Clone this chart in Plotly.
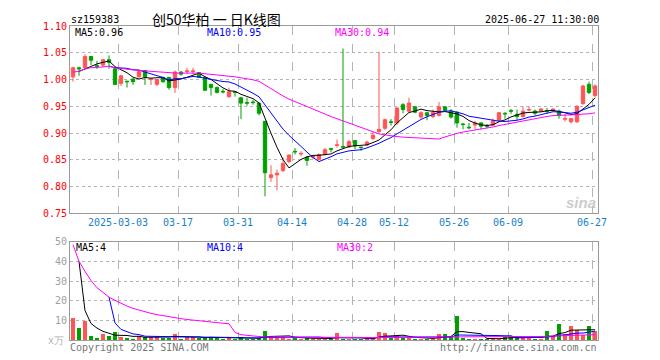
import plotly.graph_objects as go
import pandas as pd

# ---------------- data ----------------
holidays = ["2025-04-04", "2025-05-01", "2025-05-02", "2025-05-05", "2025-06-02"]
dates = [d.strftime("%Y-%m-%d") for d in
         pd.bdate_range("2025-02-19", "2025-06-27", freq="C", holidays=holidays)]

# three trading days before the visible window (only used by the moving averages)
pre_close = [1.019, 1.011, 1.004]
pre_volume = [135, 35, 13]

open_ = [1.005, 1.022, 1.022, 1.043, 1.026, 1.027, 1.037, 1.020, 0.993, 0.997,
         1.001, 1.005, 1.017, 1.000, 0.991, 1.004, 1.004, 0.985, 1.014, 1.015,
         1.015, 1.013, 1.004, 0.991, 0.985, 0.978, 0.968, 0.977, 0.966, 0.957,
         0.958, 0.956, 0.922, 0.817, 0.822, 0.830, 0.847, 0.866, 0.861, 0.855,
         0.855, 0.851, 0.860, 0.871, 0.877, 0.875, 0.874, 0.886, 0.874, 0.878,
         0.890, 0.903, 0.909, 0.921, 0.919, 0.953, 0.941, 0.949, 0.930, 0.938,
         0.931, 0.933, 0.949, 0.941, 0.939, 0.917, 0.911, 0.915, 0.919, 0.914,
         0.915, 0.923, 0.937, 0.942, 0.935, 0.931, 0.943, 0.941, 0.941, 0.942,
         0.942, 0.941, 0.926, 0.921, 0.921, 0.955, 0.991, 0.970]
high = [1.024, 1.024, 1.047, 1.043, 1.035, 1.038, 1.045, 1.021, 1.009, 0.997,
        1.002, 1.017, 1.018, 1.002, 1.001, 1.005, 1.005, 1.017, 1.016, 1.022,
        1.022, 1.014, 1.005, 0.992, 0.987, 0.982, 0.985, 0.977, 0.967, 0.966,
        0.962, 0.957, 0.922, 0.840, 0.832, 0.855, 0.860, 0.872, 0.866, 0.857,
        0.858, 0.862, 0.872, 0.871, 0.888, 1.058, 0.887, 0.886, 0.874, 0.886,
        0.902, 1.052, 0.927, 0.926, 0.948, 0.956, 0.966, 0.950, 0.941, 0.939,
        0.944, 0.958, 0.950, 0.945, 0.941, 0.919, 0.919, 0.923, 0.920, 0.917,
        0.927, 0.939, 0.939, 0.945, 0.944, 0.950, 0.950, 0.944, 0.947, 0.947,
        0.946, 0.944, 0.936, 0.928, 0.952, 0.990, 0.996, 0.991]
low = [0.996, 1.007, 1.021, 1.027, 1.020, 1.023, 1.020, 0.990, 0.988, 0.985,
       0.990, 1.004, 0.990, 0.990, 0.988, 0.994, 0.981, 0.975, 1.007, 1.010,
       1.010, 1.003, 0.979, 0.970, 0.974, 0.974, 0.966, 0.968, 0.926, 0.951,
       0.953, 0.933, 0.782, 0.809, 0.793, 0.827, 0.844, 0.860, 0.857, 0.839,
       0.852, 0.849, 0.858, 0.864, 0.873, 0.871, 0.872, 0.870, 0.867, 0.876,
       0.887, 0.899, 0.906, 0.914, 0.915, 0.937, 0.939, 0.937, 0.927, 0.924,
       0.928, 0.931, 0.941, 0.927, 0.910, 0.907, 0.907, 0.907, 0.907, 0.909,
       0.914, 0.921, 0.927, 0.936, 0.924, 0.929, 0.941, 0.933, 0.941, 0.936,
       0.941, 0.927, 0.922, 0.918, 0.919, 0.953, 0.973, 0.967]
close = [1.022, 1.020, 1.043, 1.036, 1.025, 1.037, 1.032, 0.991, 1.007, 0.996,
         0.996, 1.015, 1.005, 1.001, 1.000, 0.996, 0.985, 1.014, 1.010, 1.016,
         1.016, 1.004, 0.980, 0.985, 0.976, 0.977, 0.977, 0.976, 0.956, 0.956,
         0.957, 0.937, 0.826, 0.822, 0.825, 0.843, 0.859, 0.865, 0.862, 0.849,
         0.857, 0.860, 0.869, 0.870, 0.878, 0.874, 0.884, 0.876, 0.873, 0.883,
         0.896, 0.907, 0.925, 0.920, 0.947, 0.944, 0.956, 0.939, 0.938, 0.933,
         0.939, 0.949, 0.942, 0.930, 0.919, 0.916, 0.910, 0.919, 0.913, 0.913,
         0.923, 0.938, 0.936, 0.941, 0.931, 0.941, 0.944, 0.937, 0.945, 0.941,
         0.945, 0.933, 0.927, 0.927, 0.950, 0.988, 0.976, 0.988]
volume = [11.3, 6.0, 9.7, 2.0, 1.3, 3.0, 2.0, 4.0, 1.5, 1.0,
          0.7, 2.3, 1.5, 1.5, 2.0, 1.3, 1.3, 3.0, 0.7, 1.5,
          1.5, 1.3, 1.0, 1.5, 1.0, 0.8, 1.0, 0.7, 1.5, 0.8,
          0.8, 1.0, 4.5, 2.0, 1.7, 1.5, 0.8, 1.0, 0.8, 1.0,
          0.7, 0.8, 0.8, 0.5, 3.7, 0.8, 0.5, 0.8, 0.7, 0.7,
          0.7, 4.2, 3.5, 1.3, 2.0, 1.3, 1.3, 0.7, 0.7, 0.7,
          0.7, 3.0, 3.0, 1.7, 12.5, 1.3, 0.8, 0.5, 0.8, 0.5,
          0.7, 0.7, 2.0, 1.7, 1.3, 2.0, 1.3, 0.8, 0.8, 4.5,
          2.3, 8.0, 3.3, 7.0, 5.0, 2.5, 7.0, 4.7]

tick_dates = ["2025-03-03", "2025-03-17", "2025-03-31", "2025-04-14", "2025-04-28",
              "2025-05-12", "2025-05-26", "2025-06-09", "2025-06-27"]
tick_labels = ["2025-03-03", "03-17", "03-31", "04-14", "04-28",
               "05-12", "05-26", "06-09", "06-27"]
price_ticks = [0.75, 0.80, 0.85, 0.90, 0.95, 1.00, 1.05, 1.10]
volume_ticks = [10, 20, 30, 40, 50]

code = "sz159383"
title = "创50华柏 一 日K线图"
stamp = "2025-06-27 11:30:00"
price_legend = ["MA5:0.96", "MA10:0.95", "MA30:0.94"]
volume_legend = ["MA5:4", "MA10:4", "MA30:2"]

# ---------------- derived ----------------
n = len(close)
x = list(range(n))
npre = len(pre_close)
cs = pd.Series(pre_close + close)
vs = pd.Series(pre_volume + volume)
ma5 = cs.rolling(5).mean().iloc[npre:].tolist()
ma10 = cs.rolling(10).mean().iloc[npre:].tolist()
ma30 = cs.rolling(30, min_periods=1).mean().iloc[npre:].tolist()
vma5 = vs.rolling(5).mean().iloc[npre:].tolist()
vma10 = vs.rolling(10).mean().iloc[npre:].tolist()
vma30 = vs.rolling(30, min_periods=1).mean().iloc[npre:].tolist()

RED = "#ff5555"
GREEN = "#00a000"
MA_COLORS = ["#000000", "#0000ff", "#ff00ff"]
GRID = "#b4b4b4"
BORDER = "#9a9a9a"
MONO = "DejaVu Sans Mono"

bar_colors = [RED if c > o else GREEN for o, c in zip(open_, close)]
tickvals = [dates.index(d) - 0.5 for d in tick_dates]

fig = go.Figure()
fig.add_trace(go.Candlestick(
    x=x, open=open_, high=high, low=low, close=close,
    increasing=dict(line=dict(color=RED, width=1), fillcolor=RED),
    decreasing=dict(line=dict(color=GREEN, width=1), fillcolor=GREEN),
    whiskerwidth=0, xaxis="x", yaxis="y", showlegend=False))
for vals, col in zip([ma5, ma10, ma30], MA_COLORS):
    fig.add_trace(go.Scatter(x=x, y=vals, mode="lines", line=dict(color=col, width=1),
                             xaxis="x", yaxis="y", showlegend=False))
fig.add_trace(go.Bar(x=x, y=volume, marker=dict(color=bar_colors, line=dict(width=0)),
                     width=0.8, xaxis="x2", yaxis="y2", showlegend=False))
for vals, col in zip([vma5, vma10, vma30], MA_COLORS):
    fig.add_trace(go.Scatter(x=x, y=vals, mode="lines", line=dict(color=col, width=1),
                             xaxis="x2", yaxis="y2", showlegend=False))

# page body has an 8px margin: lay the figure out in window pixels minus that offset
OFF = 8
W, H = 660, 360
L, R, T, B = 70 - OFF, 598 - OFF, 20 - OFF, 340 - OFF
PW, PH = R - L, B - T


def px(xp):
    return (xp - OFF - L) / PW


def py(yp):
    return (B - (yp - OFF)) / PH


main_dom = [py(211), 1.0]
vol_dom = [0.0, py(240)]

axis_common = dict(showline=True, mirror=True, linecolor=BORDER, linewidth=1,
                   zeroline=False, ticks="", fixedrange=True)

fig.update_layout(
    width=W, height=H,
    margin=dict(l=L, r=W - R, t=T, b=H - B),
    paper_bgcolor="white", plot_bgcolor="white",
    boxgap=0.2,
    bargap=0,
    xaxis=dict(domain=[0, 1], anchor="y", range=[-0.5, n - 0.5],
               tickmode="array", tickvals=tickvals, ticktext=tick_labels,
               tickfont=dict(family=MONO, size=10, color="#1a7fc8"),
               showgrid=True, gridcolor=GRID, griddash="dash", gridwidth=1,
               rangeslider=dict(visible=False), **axis_common),
    yaxis=dict(domain=main_dom, anchor="x", range=[0.75, 1.10],
               tickmode="array", tickvals=price_ticks,
               ticktext=[f"{v:.2f}" for v in price_ticks],
               tickfont=dict(family=MONO, size=10, color="#ff0000"),
               showgrid=True, gridcolor=GRID, griddash="dot", gridwidth=1,
               **axis_common),
    xaxis2=dict(domain=[0, 1], anchor="y2", matches="x", range=[-0.5, n - 0.5],
                tickmode="array", tickvals=tickvals, showticklabels=False,
                showgrid=True, gridcolor=GRID, griddash="dash", gridwidth=1,
                **axis_common),
    yaxis2=dict(domain=vol_dom, anchor="x2", range=[0, 50],
                tickmode="array", tickvals=volume_ticks,
                tickfont=dict(family=MONO, size=10, color="#a0a0a0"),
                showgrid=True, gridcolor=GRID, griddash="dot", gridwidth=1,
                **axis_common),
)

ann = []


def text(t, xp, yp, color, size=10, family=MONO, xanchor="left", **kw):
    ann.append(dict(text=t, x=px(xp), y=py(yp), xref="paper", yref="paper",
                    xanchor=xanchor, yanchor="middle", showarrow=False,
                    font=dict(family=family, size=size, color=color), **kw))


text(code, 69, 13, "#000000", size=10)
text(title, 150, 13, "#000000", size=14, family="Noto Sans CJK SC")
text(stamp, 601, 13, "#000000", size=10, xanchor="right")
for t, xp, col in zip(price_legend, [73, 205, 333], MA_COLORS):
    text(t, xp, 27, col)
for t, xp, col in zip(volume_legend, [74, 205, 335], MA_COLORS):
    text(t, xp, 246, col)
text("x万", 66, 341, "#b0b0b0", size=10, xanchor="right")
text("Copyright 2025 SINA.COM", 68, 348, "#777777")
text("http://finance.sina.com.cn", 599, 348, "#777777", xanchor="right")
text("<b><i>sina</i></b>", 598, 200, "rgba(190,190,190,0.8)", size=15,
     family="Arial", xanchor="right")

fig.update_layout(annotations=ann)
fig.write_html("out.html")
